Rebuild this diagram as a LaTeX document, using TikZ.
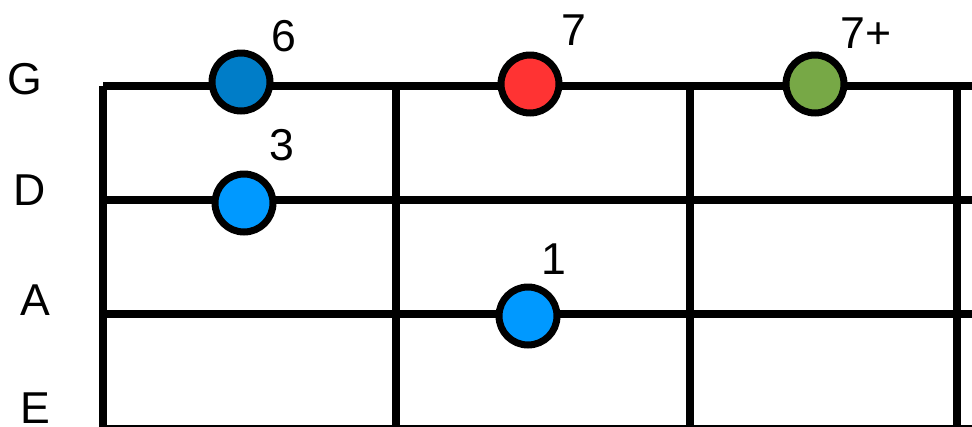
\documentclass[tikz,border=0pt]{standalone}
\usepackage{fontspec}
\setmainfont{Liberation Sans}
\usepackage{xcolor}
\definecolor{deepblue}{RGB}{0, 125, 200}
\definecolor{skyblue}{RGB}{0, 153, 255}
\definecolor{notered}{RGB}{255, 51, 51}
\definecolor{notegreen}{RGB}{119, 168, 70}
\usetikzlibrary{positioning, calc}

\begin{document}
\begin{tikzpicture}[
    x=0.02cm, y=-0.02cm,
    every node/.style={font=\fontsize{25.4}{30}\selectfont},
    string/.style={draw=black, line width=0.16cm},
    fret/.style={draw=black, line width=0.16cm},
    dot/.style={circle, draw=black, line width=0.14cm, minimum size=1.16cm, inner sep=0pt},
    strname/.style={inner sep=0pt, anchor=center},
    degree/.style={inner sep=0pt, anchor=center}
]
\useasboundingbox (0,0) rectangle (972,426);

% ==================== STRINGS ====================
\foreach \s/\y in {G/86, D/200, A/314, E/429} {
    \coordinate (\s_start) at (103,\y);
    \coordinate (\s_end) at (975,\y);
    \draw[string] (\s_start) -- (\s_end);
}
\node[strname] (lbl_g) at (25,79) {G};
\node[strname] (lbl_d) at (30,190) {D};
\node[strname] (lbl_a) at (35,300) {A};
\node[strname] (lbl_e) at (35,408) {E};

% ==================== FRETS ====================
\foreach \f/\x in {0/103, 1/396, 2/690, 3/957} {
    \coordinate (fret\f_top) at (\x,86);
    \coordinate (fret\f_bot) at (\x,432);
    \draw[fret] (fret\f_top) -- (fret\f_bot);
}

% ==================== NOTES ====================
\node[dot, fill=deepblue] (g6) at (241,82) {};
\node[dot, fill=notered] (g7) at (530,84) {};
\node[dot, fill=notegreen] (g7p) at (815,84) {};
\node[dot, fill=skyblue] (d3) at (244,203) {};
\node[dot, fill=skyblue] (a1) at (528,316) {};

\node[degree] (g6_lbl) at (284,36) {6};
\node[degree] (g7_lbl) at (574,30) {7};
\node[degree] (g7p_lbl) at (866,33) {7+};
\node[degree] (d3_lbl) at (282,145) {3};
\node[degree] (a1_lbl) at (554,259) {1};

\end{tikzpicture}
\end{document}
